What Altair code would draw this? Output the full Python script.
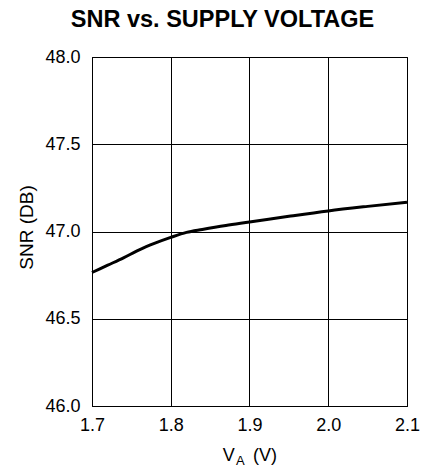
import altair as alt
import pandas as pd

# Data
supply_v = [1.70, 1.72, 1.74, 1.76, 1.78, 1.80, 1.82, 1.84, 1.87, 1.90, 1.95, 2.00, 2.05, 2.10]
snr_db = [46.765, 46.807, 46.849, 46.895, 46.933, 46.966, 46.995, 47.012, 47.035, 47.054,
          47.087, 47.118, 47.144, 47.168]

x_ticks = [1.7, 1.8, 1.9, 2.0, 2.1]
y_ticks = [46.0, 46.5, 47.0, 47.5, 48.0]

df = pd.DataFrame({"v": supply_v, "snr": snr_db})

FONT = "Liberation Sans"
W, H = 315, 349

base = alt.Chart(df)

line = base.mark_line(color="black", strokeWidth=3, interpolate="monotone").encode(
    x=alt.X("v:Q", scale=alt.Scale(domain=[1.7, 2.1], nice=False),
            axis=alt.Axis(values=x_ticks, format=".1f", title=None, labelPadding=10,
                          grid=True, ticks=False, labelFlush=False)),
    y=alt.Y("snr:Q", scale=alt.Scale(domain=[46.0, 48.0], nice=False),
            axis=alt.Axis(values=y_ticks, format=".1f", title="SNR (DB)", labelPadding=12,
                          grid=True, ticks=False, titlePadding=8, labelFlush=False,
                          titleY=170)),
)

lbl = pd.DataFrame({"t": ["V", "A", "(V)"], "px": [130.7, 144.0, 161.0],
                    "py": [403.7, 408.0, 403.7], "fs": [18, 13, 18]})

xtitle = alt.Chart(lbl).mark_text(align="left", baseline="alphabetic", font=FONT,
                                   color="black").encode(
    text="t:N",
    x=alt.X("px:Q", scale=None),
    y=alt.Y("py:Q", scale=None),
    size=alt.Size("fs:Q", scale=None, legend=None),
)

chart = alt.layer(line, xtitle).properties(
    width=W, height=H,
    title=alt.TitleParams("SNR vs. SUPPLY VOLTAGE", font=FONT, fontSize=23.5, fontWeight="bold",
                          anchor="middle", dx=-27, offset=17, color="black"),
    autosize=alt.AutoSizeParams(type="none"),
    padding={"left": 92, "top": 57, "right": 18, "bottom": 64},
).configure_view(
    stroke="black", strokeWidth=1
).configure_axis(
    gridColor="black", gridOpacity=1, gridWidth=1,
    domainColor="black", domainWidth=1,
    labelFont=FONT, labelFontSize=18, labelColor="black",
    titleFont=FONT, titleFontSize=19, titleFontWeight="normal", titleColor="black",
)

chart.save("out.html", embed_options={"renderer": "svg", "actions": False})
